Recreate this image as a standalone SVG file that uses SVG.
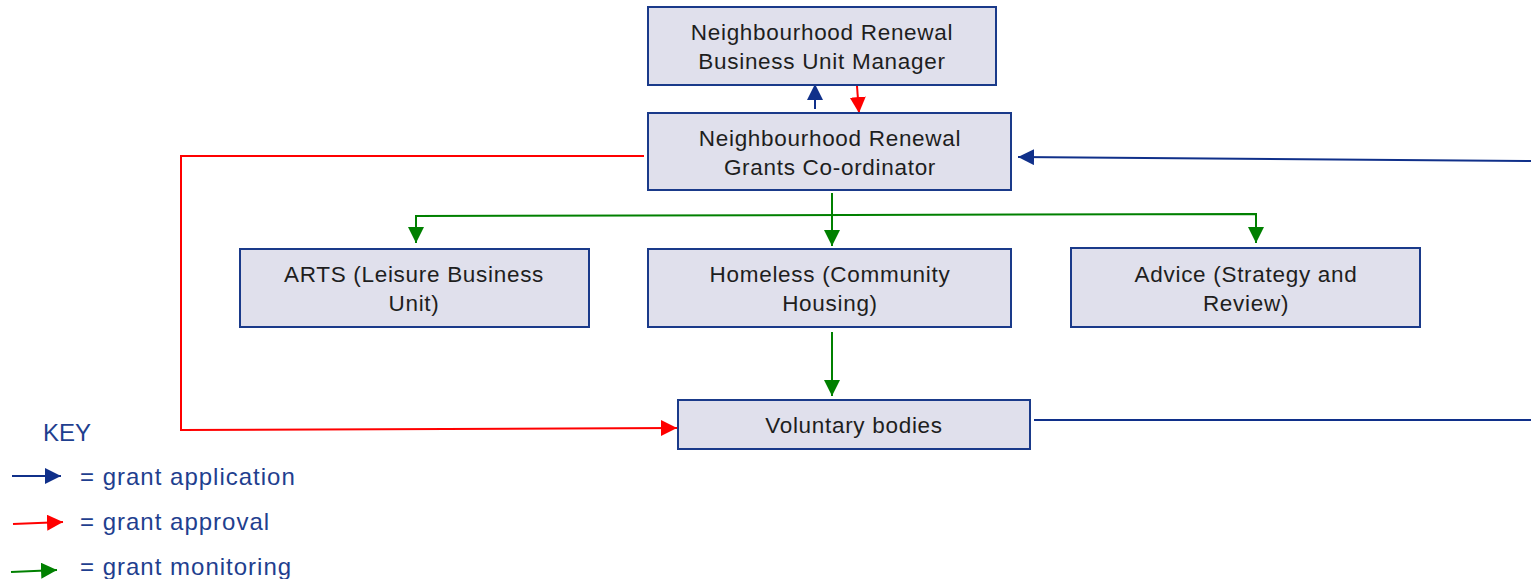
<svg xmlns="http://www.w3.org/2000/svg" width="1531" height="579" viewBox="0 0 1531 579">
<style>
.box{fill:#e0e0ec;stroke:#1a3a8a;stroke-width:2}
.t{font-family:"Liberation Sans",Arial,sans-serif;font-size:22.5px;letter-spacing:0.7px;fill:#1e1e1e;text-anchor:middle}
.k{font-family:"Liberation Sans",Arial,sans-serif;font-size:24px;letter-spacing:1px;fill:#1f3f8f}
.b{stroke:#10308a;stroke-width:2;fill:none}
.r{stroke:#ff0000;stroke-width:2;fill:none}
.g{stroke:#008000;stroke-width:2;fill:none}
</style>
<defs>
<marker id="mb" markerUnits="userSpaceOnUse" markerWidth="18" markerHeight="18" refX="16" refY="8" orient="auto"><path d="M0,0 L16,8 L0,16 Z" fill="#10308a"/></marker>
<marker id="mr" markerUnits="userSpaceOnUse" markerWidth="18" markerHeight="18" refX="16" refY="8" orient="auto"><path d="M0,0 L16,8 L0,16 Z" fill="#ff0000"/></marker>
<marker id="mg" markerUnits="userSpaceOnUse" markerWidth="18" markerHeight="18" refX="16" refY="8" orient="auto"><path d="M0,0 L16,8 L0,16 Z" fill="#008000"/></marker>
</defs>
<g id="connectors">
<line class="b" x1="815" y1="109" x2="815" y2="84" marker-end="url(#mb)"/>
<line class="r" x1="857" y1="86" x2="859" y2="113" marker-end="url(#mr)"/>
<polyline class="r" points="644,156 181,156 181,430 677,428" marker-end="url(#mr)"/>
<line class="b" x1="1531" y1="161" x2="1018" y2="157" marker-end="url(#mb)"/>
<line class="b" x1="1034" y1="420" x2="1531" y2="420"/>
<line class="g" x1="832" y1="193" x2="832" y2="246" marker-end="url(#mg)"/>
<polyline class="g" points="416,243 416,216 1256,214 1256,243" />
<line class="g" x1="416" y1="230" x2="416" y2="243" marker-end="url(#mg)"/>
<line class="g" x1="1256" y1="230" x2="1256" y2="243" marker-end="url(#mg)"/>
<line class="g" x1="832" y1="332" x2="832" y2="396" marker-end="url(#mg)"/>
</g>
<g id="manager">
<rect class="box" x="648" y="7" width="348" height="78"/>
<text class="t" x="822" y="40">Neighbourhood Renewal</text>
<text class="t" x="822" y="69">Business Unit Manager</text>
</g>
<g id="coordinator">
<rect class="box" x="648" y="113" width="363" height="77"/>
<text class="t" x="830" y="146">Neighbourhood Renewal</text>
<text class="t" x="830" y="175">Grants Co-ordinator</text>
</g>
<g id="arts">
<rect class="box" x="240" y="249" width="349" height="78"/>
<text class="t" x="414" y="282">ARTS (Leisure Business</text>
<text class="t" x="414" y="311">Unit)</text>
</g>
<g id="homeless">
<rect class="box" x="648" y="249" width="363" height="78"/>
<text class="t" x="830" y="282">Homeless (Community</text>
<text class="t" x="830" y="311">Housing)</text>
</g>
<g id="advice">
<rect class="box" x="1071" y="248" width="349" height="79"/>
<text class="t" x="1246" y="282">Advice (Strategy and</text>
<text class="t" x="1246" y="311">Review)</text>
</g>
<g id="voluntary">
<rect class="box" x="678" y="400" width="352" height="49"/>
<text class="t" x="854" y="433">Voluntary bodies</text>
</g>
<g id="key">
<text class="k" x="43" y="441" style="letter-spacing:0">KEY</text>
<line class="b" x1="12" y1="476" x2="61" y2="476" marker-end="url(#mb)"/>
<line class="r" x1="13" y1="524" x2="63" y2="522" marker-end="url(#mr)"/>
<line class="g" x1="11" y1="572" x2="57" y2="570" marker-end="url(#mg)"/>
<text class="k" x="80" y="485">= grant application</text>
<text class="k" x="80" y="530">= grant approval</text>
<text class="k" x="80" y="575">= grant monitoring</text>
</g>
</svg>
